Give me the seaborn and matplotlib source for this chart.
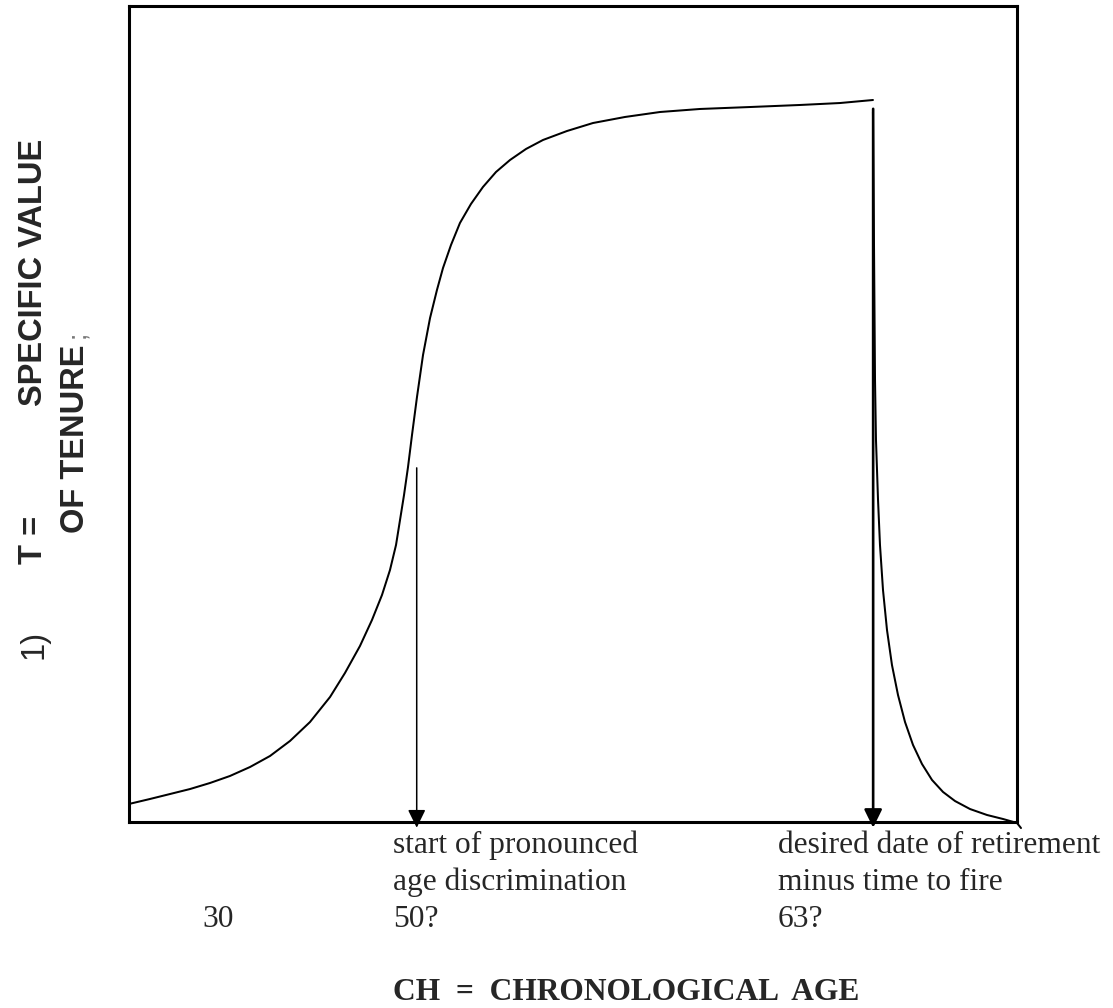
import numpy as np
import pandas as pd
import matplotlib
matplotlib.use("Agg")
import matplotlib.pyplot as plt
import seaborn as sns

sns.set_theme(style="white")
plt.rcParams['font.family'] = ['Liberation Serif', 'DejaVu Serif']

# curve, box scaled 0-100 both ways
rise_x = [0.00, 2.36, 4.62, 6.87, 9.12, 11.37, 13.63, 15.88, 18.13, 20.38, 22.64, 24.32,
          26.01, 27.36, 28.49, 29.39, 30.07, 30.52, 30.97, 31.42, 31.87, 32.43, 33.11,
          33.90, 34.68, 35.36, 36.26, 37.27, 38.51, 39.86, 41.33, 42.91, 44.71, 46.62,
          49.32, 52.25, 55.86, 59.80, 64.30, 69.93, 75.56, 80.07, 83.78]
rise_y = [2.21, 2.82, 3.43, 4.04, 4.78, 5.64, 6.74, 8.09, 9.93, 12.25, 15.32, 18.26,
          21.57, 24.75, 27.82, 30.88, 33.95, 37.01, 40.07, 43.50, 47.43, 52.08, 57.23,
          61.76, 65.20, 67.89, 70.71, 73.41, 75.74, 77.82, 79.66, 81.13, 82.48, 83.58,
          84.68, 85.66, 86.40, 87.01, 87.38, 87.62, 87.87, 88.11, 88.48]
fall_x = [83.78, 83.90, 84.01, 84.12, 84.35, 84.57, 84.91, 85.36, 85.92, 86.60, 87.39,
          88.29, 89.30, 90.43, 91.67, 93.02, 94.71, 96.62, 98.42, 100.00, 100.45]
fall_y = [87.01, 70.10, 54.17, 46.81, 39.46, 33.95, 28.43, 23.53, 19.24, 15.56, 12.25,
          9.44, 7.11, 5.15, 3.68, 2.57, 1.59, 0.86, 0.37, -0.12, -0.74]

# arrows marking the two ages
arrow_x = [32.4, 83.8]
arrow_top = [43.4, 87.4]
arrow_lw = [1.1, 1.9]
arrow_tip = -0.7

under_labels = [
    ["start of pronounced", "age discrimination", "50?"],
    ["desired date of retirement", "minus time to fire", "63?"],
]
under_left = [393, 778]
age_30 = "30"
x_title = "CH  =  CHRONOLOGICAL  AGE"

W, H = 1113, 1008


def px(x, y):
    return x / W, 1 - y / H


fig = plt.figure(figsize=(W / 100, H / 100), dpi=100)
ax = fig.add_axes([129 / W, (H - 822) / H, 888 / W, 816 / H])

rise = pd.DataFrame({'x': rise_x, 'y': rise_y})
fall = pd.DataFrame({'x': fall_x, 'y': fall_y})
sns.lineplot(data=rise, x='x', y='y', sort=False, estimator=None, color='black', lw=1.45,
             solid_joinstyle='round', ax=ax)
sns.lineplot(data=fall, x='x', y='y', sort=False, estimator=None, color='black', lw=1.45,
             solid_joinstyle='round', ax=ax, clip_on=False)

for xa, top, lw in zip(arrow_x, arrow_top, arrow_lw):
    ax.annotate('', xy=(xa, arrow_tip), xytext=(xa, top),
                arrowprops=dict(arrowstyle='-|>,head_length=0.55,head_width=0.27',
                                mutation_scale=20, color='black', lw=lw,
                                shrinkA=0, shrinkB=0),
                annotation_clip=False)

ax.set_xlim(0, 100)
ax.set_ylim(0, 100)
ax.set_xticks([])
ax.set_yticks([])
ax.set_xlabel('')
ax.set_ylabel('')
for s in ax.spines.values():
    s.set_color('black')
    s.set_linewidth(2.2)

fs = 22.7
for left, lines in zip(under_left, under_labels):
    for i, line in enumerate(lines):
        fig.text(*px(left, 853 + 37 * i), line, fontsize=fs, va='baseline', ha='left')
fig.text(*px(202, 927), age_30, fontsize=fs, va='baseline', ha='left')
fig.text(*px(393, 1000), x_title, fontsize=fs, fontweight='bold', va='baseline', ha='left')

# rotated y label, two lines
sans = ['Liberation Sans', 'DejaVu Sans']
lfs = 23.5
fig.text(*px(34, 659), '1)', fontsize=lfs, family=sans, rotation=90, ha='center', va='bottom')
fig.text(*px(34, 564), 'T =', fontsize=lfs, family=sans, fontweight='bold', rotation=90,
         ha='center', va='bottom')
fig.text(*px(34, 406), 'SPECIFIC VALUE', fontsize=lfs, family=sans, fontweight='bold',
         rotation=90, ha='center', va='bottom')
fig.text(*px(75, 533), 'OF TENURE', fontsize=lfs, family=sans, fontweight='bold', rotation=90,
         ha='center', va='bottom')
fig.text(*px(77, 338), ';', fontsize=lfs * 0.8, family=sans, color='#777777', rotation=90,
         ha='center', va='bottom')

fig.savefig('out.png', dpi=100)
